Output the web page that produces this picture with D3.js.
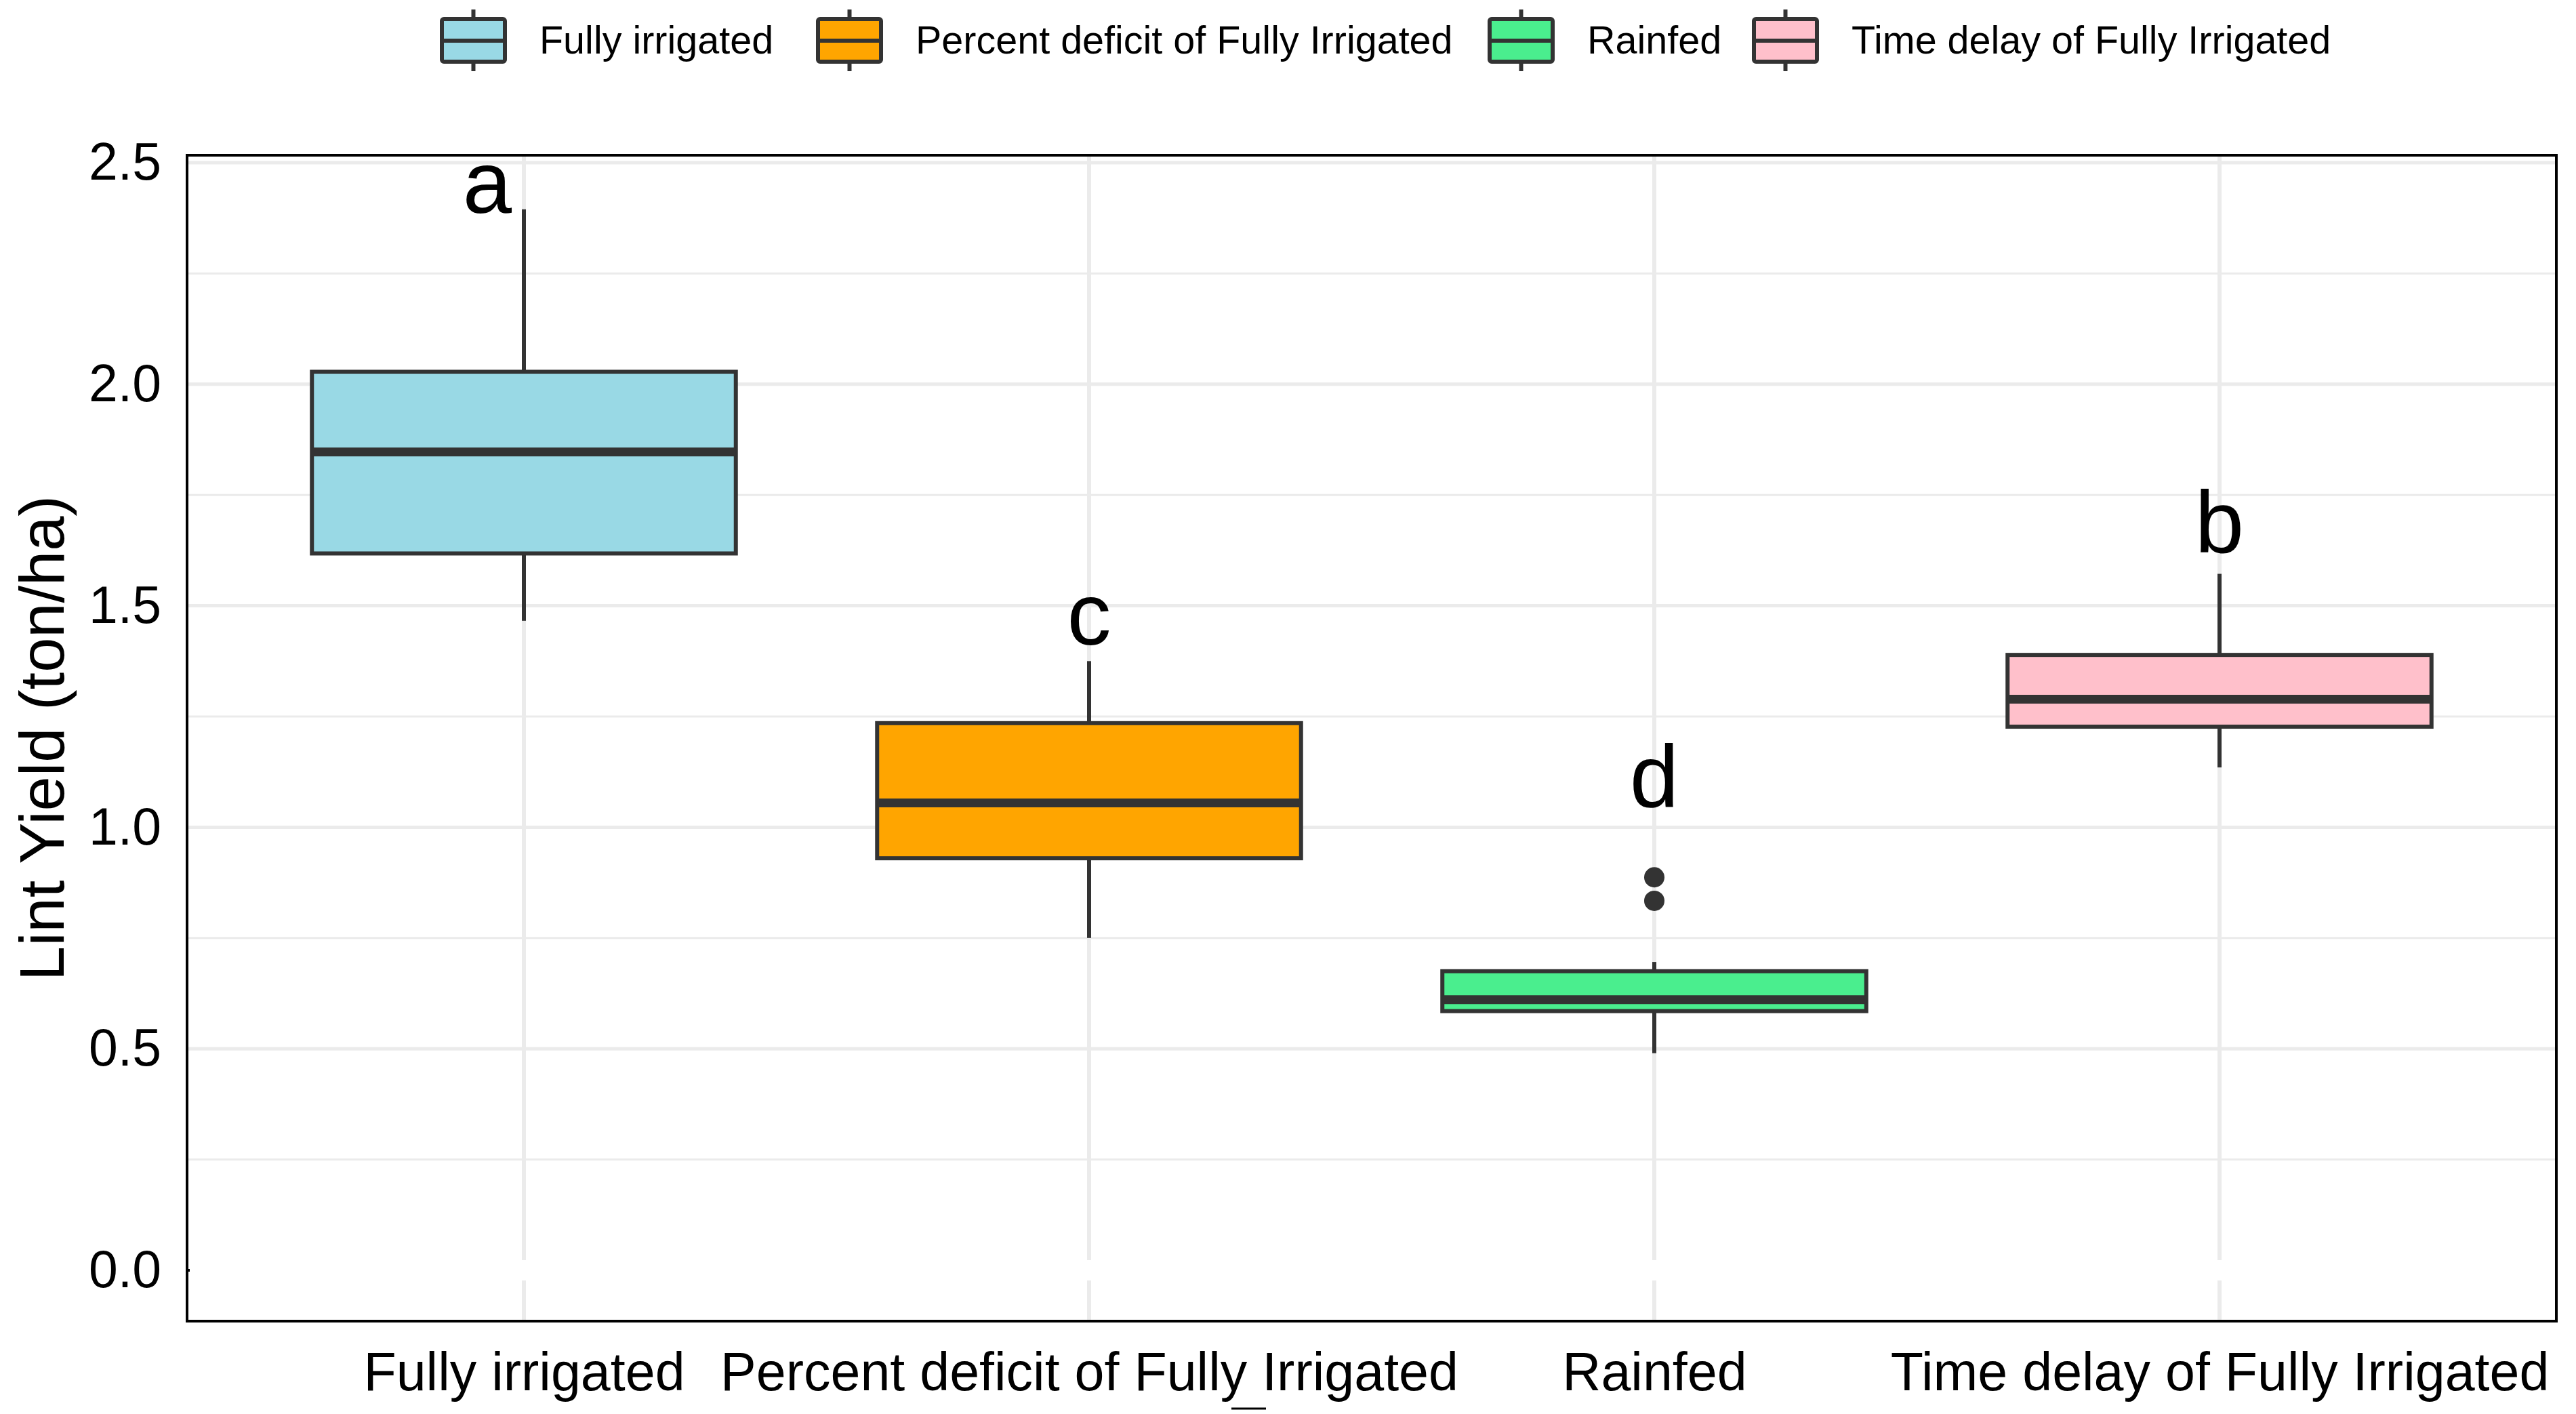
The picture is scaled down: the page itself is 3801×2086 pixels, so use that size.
<!DOCTYPE html>
<html>
<head>
<meta charset="utf-8">
<script src="https://cdn.jsdelivr.net/npm/d3@7"></script>
<style>
  html, body { margin: 0; padding: 0; background: #ffffff; }
  svg { display: block; }
  text { font-family: "Liberation Sans", Arial, Helvetica, sans-serif; }
</style>
</head>
<body>
<script>
// ---------------- DATA ----------------
const categories = ["Fully irrigated", "Percent deficit of Fully Irrigated", "Rainfed", "Time delay of Fully Irrigated"];
const fillColors = ["#99D9E5", "#FFA500", "#4AEE8E", "#FFC0CB"];
const whiskerLow  = [1.466, 0.750, 0.490, 1.135];
const q1Values    = [1.618, 0.930, 0.585, 1.227];
const medianVals  = [1.847, 1.055, 0.611, 1.289];
const q3Values    = [2.028, 1.235, 0.675, 1.389];
const whiskerHigh = [2.395, 1.375, 0.696, 1.572];
const outlierCats = ["Rainfed", "Rainfed"];
const outlierVals = [0.887, 0.834];
const letterLabels = ["a", "c", "d", "b"];
const letterYVals  = [2.387, 1.412, 1.047, 1.620];
const yTickValues = [0, 0.5, 1.0, 1.5, 2.0, 2.5];
const yMinorValues = [0.25, 0.75, 1.25, 1.75, 2.25];
const yAxisTitle = "Lint Yield (ton/ha)";

// ---------------- LAYOUT ----------------
const W = 3801, H = 2086;
const panel = { left: 276, right: 3772, top: 229, bottom: 1949 };
const dark = "#333333";

const svg = d3.select("body").append("svg").attr("width", W).attr("height", H);
svg.append("rect").attr("width", W).attr("height", H).attr("fill", "#ffffff");

const x = d3.scalePoint().domain(categories).range([773, 3275]);
const step = x.step();
const boxW = step * 0.75;
const y = d3.scaleLinear().domain([0, 2.5]).range([1874, 240]);

const grid = svg.append("g");
grid.selectAll("line.minor").data(yMinorValues).join("line")
  .attr("x1", panel.left).attr("x2", panel.right)
  .attr("y1", d => y(d)).attr("y2", d => y(d))
  .attr("stroke", "#EBEBEB").attr("stroke-width", 3);
grid.selectAll("line.major").data(yTickValues).join("line")
  .attr("x1", panel.left).attr("x2", panel.right)
  .attr("y1", d => y(d)).attr("y2", d => y(d))
  .attr("stroke", "#EBEBEB").attr("stroke-width", 5);
grid.selectAll("line.vert").data(categories).join("line")
  .attr("x1", d => x(d)).attr("x2", d => x(d))
  .attr("y1", panel.top).attr("y2", panel.bottom)
  .attr("stroke", "#EBEBEB").attr("stroke-width", 6);
svg.append("line")
  .attr("x1", panel.left).attr("x2", panel.right)
  .attr("y1", y(0)).attr("y2", y(0))
  .attr("stroke", "#ffffff").attr("stroke-width", 30);

// ---------------- BOXES ----------------
const boxes = categories.map((c, i) => ({
  cat: c, fill: fillColors[i], lo: whiskerLow[i], q1: q1Values[i],
  med: medianVals[i], q3: q3Values[i], hi: whiskerHigh[i]
}));

const bg = svg.append("g");
bg.selectAll("line.wu").data(boxes).join("line")
  .attr("x1", d => x(d.cat)).attr("x2", d => x(d.cat))
  .attr("y1", d => y(d.hi)).attr("y2", d => y(d.q3))
  .attr("stroke", dark).attr("stroke-width", 6);
bg.selectAll("line.wl").data(boxes).join("line")
  .attr("x1", d => x(d.cat)).attr("x2", d => x(d.cat))
  .attr("y1", d => y(d.q1)).attr("y2", d => y(d.lo))
  .attr("stroke", dark).attr("stroke-width", 6);
bg.selectAll("rect.box").data(boxes).join("rect")
  .attr("x", d => x(d.cat) - boxW / 2).attr("width", boxW)
  .attr("y", d => y(d.q3)).attr("height", d => y(d.q1) - y(d.q3))
  .attr("fill", d => d.fill).attr("stroke", dark).attr("stroke-width", 6);
bg.selectAll("line.med").data(boxes).join("line")
  .attr("x1", d => x(d.cat) - boxW / 2).attr("x2", d => x(d.cat) + boxW / 2)
  .attr("y1", d => y(d.med)).attr("y2", d => y(d.med))
  .attr("stroke", dark).attr("stroke-width", 13);
bg.selectAll("circle.out").data(outlierVals).join("circle")
  .attr("cx", (d, i) => x(outlierCats[i])).attr("cy", d => y(d))
  .attr("r", 15).attr("fill", dark);

const letterNudge = [-54, 0, 0, 0];
svg.selectAll("text.letter").data(letterLabels).join("text")
  .attr("x", (d, i) => x(categories[i]) + letterNudge[i])
  .attr("y", (d, i) => y(letterYVals[i]))
  .attr("text-anchor", "middle")
  .attr("font-size", 130).attr("fill", "#000")
  .text(d => d);

// ---------------- AXES ----------------
const yAxis = svg.append("g").attr("transform", `translate(${panel.left},0)`)
  .call(d3.axisLeft(y).tickValues(yTickValues).tickFormat(d3.format(".1f")).tickSize(0).tickPadding(38));
yAxis.select(".domain").remove();
yAxis.selectAll("text").attr("font-size", 77).attr("fill", "#000")
  .attr("font-family", '"Liberation Sans", Arial, sans-serif');

const xAxis = svg.append("g").attr("transform", `translate(0,${panel.bottom})`)
  .call(d3.axisBottom(x).tickSize(0).tickPadding(46));
xAxis.select(".domain").remove();
xAxis.selectAll("text").attr("font-size", 79).attr("fill", "#000")
  .attr("font-family", '"Liberation Sans", Arial, sans-serif');

svg.append("text")
  .attr("transform", `translate(94,${(panel.top + panel.bottom) / 2}) rotate(-90)`)
  .attr("text-anchor", "middle").attr("font-size", 92).attr("fill", "#000")
  .text(yAxisTitle);

svg.append("rect")
  .attr("x", panel.left).attr("y", panel.top)
  .attr("width", panel.right - panel.left).attr("height", panel.bottom - panel.top)
  .attr("fill", "none").attr("stroke", "#000").attr("stroke-width", 4);
svg.append("line").attr("x1", panel.left - 2).attr("x2", panel.left + 4)
  .attr("y1", y(0)).attr("y2", y(0)).attr("stroke", "#000").attr("stroke-width", 4);

svg.append("line").attr("x1", 1817).attr("x2", 1868).attr("y1", 2078).attr("y2", 2078)
  .attr("stroke", "#000").attr("stroke-width", 3);

// ---------------- LEGEND ----------------
const keyX = [652, 1207, 2198, 2588];
const keyW = 93, keyTop = 28, keyBot = 91, keyMid = 60;
const leg = svg.append("g");
categories.forEach((c, i) => {
  const g = leg.append("g").attr("transform", `translate(${keyX[i]},0)`);
  g.append("line").attr("x1", keyW / 2).attr("x2", keyW / 2).attr("y1", 14).attr("y2", keyTop)
    .attr("stroke", dark).attr("stroke-width", 6);
  g.append("line").attr("x1", keyW / 2).attr("x2", keyW / 2).attr("y1", keyBot).attr("y2", 105)
    .attr("stroke", dark).attr("stroke-width", 6);
  g.append("rect").attr("x", 0).attr("y", keyTop).attr("width", keyW).attr("height", keyBot - keyTop)
    .attr("rx", 3).attr("fill", fillColors[i]).attr("stroke", dark).attr("stroke-width", 6);
  g.append("line").attr("x1", 0).attr("x2", keyW).attr("y1", keyMid).attr("y2", keyMid)
    .attr("stroke", dark).attr("stroke-width", 6);
  g.append("text").attr("x", keyW + 51).attr("y", 79)
    .attr("font-size", 57.5).attr("fill", "#000").text(c);
});
</script>
</body>
</html>
